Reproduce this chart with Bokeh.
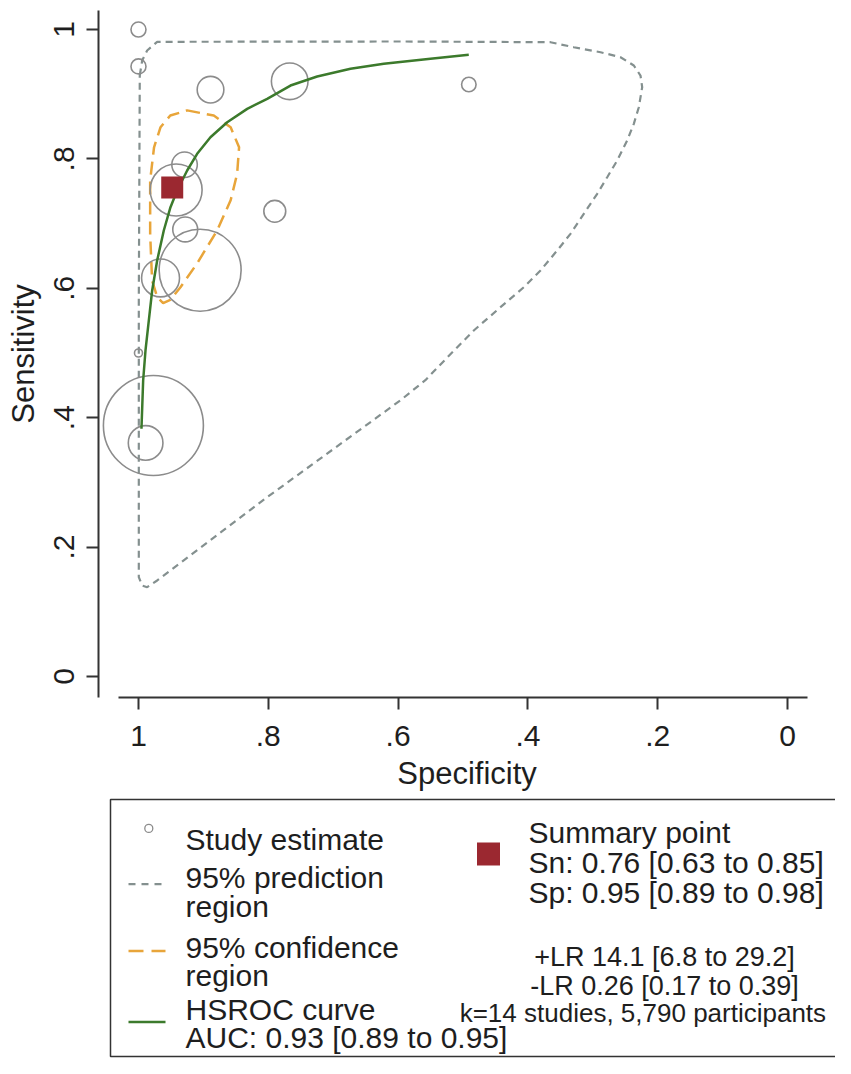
import math
from bokeh.plotting import figure
from bokeh.models import Range1d, FixedTicker, CustomJSTickFormatter
from bokeh.layouts import column
from bokeh.core.properties import value
from bokeh.embed import file_html
from bokeh.resources import INLINE

# ---------------- data ----------------
study_spec = [1.000, 1.000, 0.889, 0.767, 0.929, 0.942, 0.790, 0.928, 0.905, 0.966, 1.000, 0.977, 0.989, 0.491]
study_sens = [1.000, 0.943, 0.907, 0.920, 0.791, 0.752, 0.719, 0.691, 0.628, 0.616, 0.500, 0.388, 0.361, 0.915]
study_weight = [2.25, 2.25, 7.1, 13.4, 6.5, 27.0, 4.8, 6.2, 67.2, 14.4, 0.64, 100.0, 12.0, 2.1]

summary_spec = [0.948]
summary_sens = [0.756]

hsroc_spec = [0.9954, 0.9928, 0.9892, 0.9841, 0.9789, 0.9712, 0.9610, 0.9507, 0.9404, 0.9250,
              0.9096, 0.8891, 0.8633, 0.8325, 0.8017, 0.7658, 0.7247, 0.6733, 0.6220, 0.5501, 0.4911]
hsroc_sens = [0.3828, 0.4575, 0.5039, 0.5502, 0.5966, 0.6430, 0.6893, 0.7254, 0.7512, 0.7821,
              0.8079, 0.8335, 0.8567, 0.8774, 0.8929, 0.9134, 0.9274, 0.9393, 0.9470, 0.9547, 0.9609]

pred_spec = [0.9980, 0.9943, 0.9866, 0.9712, 0.5963, 0.3652, 0.3293, 0.2881, 0.2573, 0.2368,
             0.2265, 0.2239, 0.2291, 0.2368, 0.2470, 0.2624, 0.2778, 0.2932, 0.3139, 0.3344,
             0.3549, 0.3806, 0.4063, 0.4422, 0.4834, 0.5243, 0.5580, 0.5963, 0.8017, 0.9712,
             0.9866, 0.9943, 0.9995, 0.9995, 0.9980]
pred_sens = [0.9290, 0.9521, 0.9675, 0.9810, 0.9815, 0.9804, 0.9726, 0.9649, 0.9572, 0.9444,
             0.9289, 0.9108, 0.8799, 0.8542, 0.8284, 0.7975, 0.7717, 0.7461, 0.7151, 0.6842,
             0.6584, 0.6275, 0.6017, 0.5708, 0.5348, 0.4930, 0.4580, 0.4269, 0.2771, 0.1484,
             0.1380, 0.1406, 0.1535, 0.5811, 0.9290]

conf_spec = [0.925, 0.884, 0.858, 0.845, 0.848, 0.858, 0.879, 0.910, 0.935, 0.951, 0.962,
             0.971, 0.979, 0.982, 0.982, 0.976, 0.966, 0.951, 0.925]
conf_sens = [0.875, 0.867, 0.849, 0.818, 0.777, 0.736, 0.689, 0.638, 0.602, 0.582, 0.577,
             0.586, 0.612, 0.684, 0.767, 0.818, 0.849, 0.867, 0.875]

tick_values = [0, 0.2, 0.4, 0.6, 0.8, 1]
tick_labels = ["0", ".2", ".4", ".6", ".8", "1"]

legend_left_text = ["Study estimate", "95% prediction", "region", "95% confidence", "region",
                    "HSROC curve", "AUC: 0.93 [0.89 to 0.95]"]
legend_summary_text = ["Summary point", "Sn: 0.76 [0.63 to 0.85]", "Sp: 0.95 [0.89 to 0.98]"]
legend_lr_text = ["+LR 14.1 [6.8 to 29.2]", "-LR 0.26 [0.17 to 0.39]"]
legend_k_text = ["k=14 studies,  5,790 participants"]

# ---------------- styles ----------------
FONT = "Liberation Sans"
TXT = "#1e1e1e"
AX = "#333333"
CIRC = "#8c8c8c"
PRED = "#84908f"
CONF = "#e8a53a"
HS = "#3c7a2c"
SUMC = "#9b2830"

W, H = 835, 1058
MAIN_H = 796

study_diam = [10 * math.sqrt(w) for w in study_weight]

# ---------------- main plot ----------------
p = figure(width=W, height=MAIN_H, output_backend="svg", toolbar_location=None,
           x_range=Range1d(1.0616, -0.07396), y_range=Range1d(-0.0325, 1.0294),
           min_border_left=98, min_border_right=0, min_border_top=10, min_border_bottom=MAIN_H - 697)
p.outline_line_color = None
p.grid.visible = False
p.background_fill_color = "white"

fmt = CustomJSTickFormatter(args=dict(vals=tick_values, labs=tick_labels), code="""
for (let i = 0; i < vals.length; i++) { if (Math.abs(vals[i] - tick) < 1e-6) return labs[i]; }
return '';
""")
for ax in (p.xaxis[0], p.yaxis[0]):
    ax.ticker = FixedTicker(ticks=tick_values)
    ax.formatter = fmt
    ax.minor_tick_line_color = None
    ax.major_tick_in = 0
    ax.major_tick_out = 12
    ax.major_tick_line_width = 2
    ax.major_tick_line_color = AX
    ax.axis_line_width = 2
    ax.axis_line_color = AX
    ax.major_label_text_font = FONT
    ax.major_label_text_font_size = "30px"
    ax.major_label_text_color = TXT
    ax.axis_label_text_font = FONT
    ax.axis_label_text_font_size = "31px"
    ax.axis_label_text_font_style = "normal"
    ax.axis_label_text_color = TXT

p.xaxis.axis_label = "Specificity"
p.yaxis.axis_label = "Sensitivity"
p.xaxis.bounds = (-0.0308, 1.0308)
p.xaxis.major_label_standoff = 16
p.xaxis.axis_label_standoff = 7
p.yaxis.major_label_orientation = "vertical"
p.yaxis.major_label_standoff = 12
p.yaxis.axis_label_standoff = 11

p.patch(pred_spec, pred_sens, fill_color=None, line_color=PRED, line_width=2.2, line_dash="7 5")
p.patch(conf_spec, conf_sens, fill_color=None, line_color=CONF, line_width=2.5, line_dash="13 7")
p.scatter(study_spec, study_sens, size=study_diam, marker="circle", fill_color=None,
          line_color=CIRC, line_width=1.6)
p.line(hsroc_spec, hsroc_sens, line_color=HS, line_width=2.5)
p.scatter(summary_spec, summary_sens, size=22, marker="square", fill_color=SUMC, line_color=None)

# ---------------- legend panel (coordinates are page pixels) ----------------
LG_H = H - MAIN_H
lg = figure(width=W, height=LG_H, output_backend="svg", toolbar_location=None,
            x_range=Range1d(98, W), y_range=Range1d(H, MAIN_H),
            x_axis_location=None, y_axis_location=None,
            min_border_left=98, min_border_right=0, min_border_top=0, min_border_bottom=0)
lg.outline_line_color = None
lg.grid.visible = False

# legend frame: top, left and bottom sides (right side runs off the page as in the reference)
lg.multi_line(xs=[[900, 110, 110, 900]], ys=[[799, 799, 1056, 1056]], line_color=AX, line_width=1.5)

lg.scatter([148.3], [827.9], size=8, marker="circle", fill_color=None, line_color=CIRC, line_width=1.3)
lg.line([128, 165], [883.7, 883.7], line_color=PRED, line_width=2.2, line_dash="7 6")
lg.line([128, 165], [950.6, 950.6], line_color=CONF, line_width=2.5, line_dash="15 8")
lg.line([128, 165], [1021.5, 1021.5], line_color=HS, line_width=2.5)
lg.scatter([488], [853.4], size=23, marker="square", fill_color=SUMC, line_color=None)

lg.text(x=[185] * 7, y=[839.1, 877.3, 906.0, 947.0, 974.7, 1009.1, 1036.8], text=legend_left_text,
        text_font=value(FONT), text_font_size="30px", text_color=TXT,
        text_align="left", text_baseline="alphabetic")
lg.text(x=[528] * 3, y=[832.4, 862.0, 891.6], text=legend_summary_text,
        text_font=value(FONT), text_font_size="30px", text_color=TXT,
        text_align="left", text_baseline="alphabetic")
lg.text(x=[664] * 2, y=[956.6, 985.2], text=legend_lr_text,
        text_font=value(FONT), text_font_size="27px", text_color=TXT,
        text_align="center", text_baseline="alphabetic")
lg.text(x=[646], y=[1012.9], text=legend_k_text,
        text_font=value(FONT), text_font_size="26px", text_color=TXT,
        text_align="center", text_baseline="alphabetic")

layout = column(p, lg, spacing=0)
open("out.html", "w").write(file_html(layout, INLINE))
